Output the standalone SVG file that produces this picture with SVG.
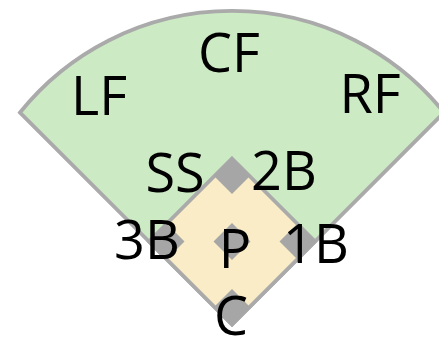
<svg xmlns="http://www.w3.org/2000/svg" width="445" height="343" viewBox="0 0 445 343">
  <defs>
    <clipPath id="clip">
      <rect x="0" y="0" width="439" height="343"/>
    </clipPath>
    <style>
      .field { stroke: #aaaaaa; stroke-width: 3.8; stroke-linejoin: miter; }
      .base { fill: #a6a6a6; }
      .lbl { font-family: "Open Sans", "Noto Sans", sans-serif; font-size: 54px; fill: #000; text-anchor: middle; }
    </style>
  </defs>
  <rect width="445" height="343" fill="#ffffff"/>
  <g id="outfield" clip-path="url(#clip)">
    <path class="field" fill="#cceac4" d="M232,324.5 L20,112.5 A272,272 0 0 1 444,112.5 Z"/>
  </g>
  <g id="infield">
    <polygon class="field" fill="#faecc7" points="232,158.5 315,241.5 232,324.5 149,241.5"/>
  </g>
  <g id="bases">
    <polygon class="base" points="232,157 250.5,175.5 232,194 213.5,175.5"/>
    <polygon class="base" points="298,223 316.5,241.5 298,260 279.5,241.5"/>
    <polygon class="base" points="232,289 250.5,307.5 232,326 213.5,307.5"/>
    <polygon class="base" points="166,223 184.5,241.5 166,260 147.5,241.5"/>
    <polygon class="base" points="232,223 250.5,241.5 232,260 213.5,241.5"/>
  </g>
  <g id="connectors"></g>
  <g id="labels">
    <text id="cf" class="lbl" x="229" y="72">CF</text>
    <text id="lf" class="lbl" x="99" y="115">LF</text>
    <text id="rf" class="lbl" x="370" y="113">RF</text>
    <text id="ss" class="lbl" x="175" y="192">SS</text>
    <text id="b2" class="lbl" x="284" y="190">2B</text>
    <text id="b3" class="lbl" x="147" y="259">3B</text>
    <text id="p" class="lbl" x="235" y="268">P</text>
    <text id="b1" class="lbl" x="316" y="263">1B</text>
    <text id="c" class="lbl" x="231" y="335">C</text>
  </g>
</svg>
